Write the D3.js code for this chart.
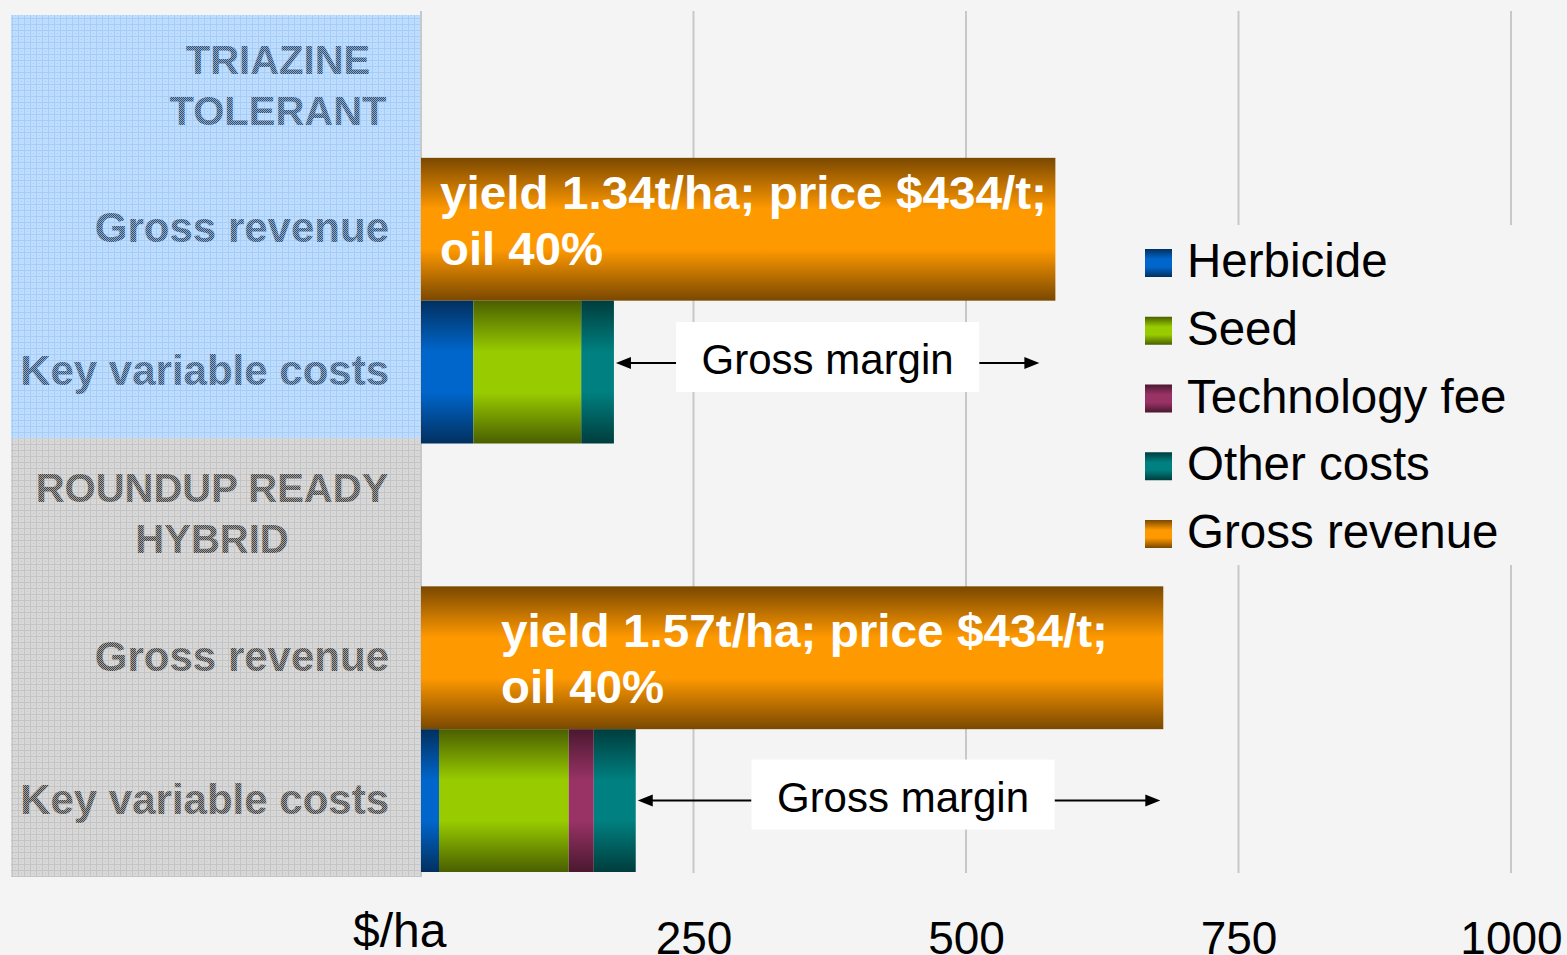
<!DOCTYPE html>
<html>
<head>
<meta charset="utf-8">
<script src="https://cdn.jsdelivr.net/npm/d3@7"></script>
<style>
body { margin: 0; background: #f4f4f4; }
svg { display: block; font-family: "Liberation Sans", Arial, sans-serif; }
</style>
</head>
<body>
<div class="chart"></div>
<script>
// Rows of the chart, top to bottom
const rows = ["tri_head", "tri_rev", "tri_cost", "rr_head", "rr_rev", "rr_cost"];
const row_labels = [["TRIAZINE", "TOLERANT"], ["Gross revenue"], ["Key variable costs"],
                    ["ROUNDUP READY", "HYBRID"], ["Gross revenue"], ["Key variable costs"]];
const cost_keys = ["Herbicide", "Seed", "Technology fee", "Other costs"];
const legend_keys = ["Herbicide", "Seed", "Technology fee", "Other costs", "Gross revenue"];
// $/ha values
const triazine_costs = [48, 99, 0, 30];
const roundup_costs = [16.5, 119, 23, 38.5];
const gross_revenue = [582, 681];
const revenue_notes = [["yield 1.34t/ha; price $434/t;", "oil 40%"],
                       ["yield 1.57t/ha; price $434/t;", "oil 40%"]];
const tick_values = [250, 500, 750, 1000];
const grid_values = [0, 250, 500, 750, 1000];
const axis_title = "$/ha";

const width = 1567;
const height = 955;

const palette = {
  "Herbicide": ["#02305f", "#0066cc"],
  "Seed": ["#4a5f00", "#99cc00"],
  "Technology fee": ["#4a1830", "#993366"],
  "Other costs": ["#003d3d", "#008080"],
  "Gross revenue": ["#7a4800", "#ff9900"],
};

const svg = d3.select(".chart").append("svg")
  .attr("width", width)
  .attr("height", height);

const defs = svg.append("defs");

// Vertical shaded gradients, dark at top and bottom
legend_keys.forEach((k, i) => {
  const g = defs.append("linearGradient")
    .attr("id", `grad${i}`)
    .attr("x1", 0).attr("y1", 0).attr("x2", 0).attr("y2", 1);
  g.append("stop").attr("offset", "0%").attr("stop-color", palette[k][0]);
  g.append("stop").attr("offset", "36%").attr("stop-color", palette[k][1]);
  g.append("stop").attr("offset", "64%").attr("stop-color", palette[k][1]);
  g.append("stop").attr("offset", "100%").attr("stop-color", palette[k][0]);
});
const fill_of = k => `url(#grad${legend_keys.indexOf(k)})`;

// Hatched panel backgrounds and stippled text
function grid_pattern(id, base, line) {
  const p = defs.append("pattern").attr("id", id)
    .attr("width", 6).attr("height", 6).attr("patternUnits", "userSpaceOnUse");
  p.append("rect").attr("width", 6).attr("height", 6).attr("fill", base);
  p.append("rect").attr("width", 6).attr("height", 1).attr("fill", line);
  p.append("rect").attr("width", 1).attr("height", 6).attr("fill", line);
  p.append("rect").attr("x", 3).attr("y", 3).attr("width", 1).attr("height", 1).attr("fill", line);
}
grid_pattern("panelBlue", "#bfdeff", "#a6cdf6");
grid_pattern("panelGray", "#d8d8d8", "#c4c4c4");

function stipple(id, dark, light) {
  const p = defs.append("pattern").attr("id", id)
    .attr("width", 2).attr("height", 2).attr("patternUnits", "userSpaceOnUse");
  p.append("rect").attr("width", 2).attr("height", 2).attr("fill", dark);
  p.append("rect").attr("x", 1).attr("width", 1).attr("height", 1).attr("fill", light);
  p.append("rect").attr("y", 1).attr("width", 1).attr("height", 1).attr("fill", light);
}
stipple("textBlue", "#34506e", "#8aa9cc");
stipple("textGray", "#444444", "#a0a0a0");

//
// Scales
//
const x = d3.scaleLinear().domain([0, 1000]).range([421, 1511]);
const y = d3.scaleBand().domain(rows).range([15, 872]).padding(0);

//
// Gridlines
//
svg.append("g").attr("class", "grid")
  .selectAll("line")
  .data(grid_values)
  .join("line")
    .attr("x1", d => x(d)).attr("x2", d => x(d))
    .attr("y1", 11).attr("y2", 873)
    .attr("stroke", "#c8c8c8")
    .attr("stroke-width", 2);

//
// Left label panels
//
const split_y = y("rr_head") - 5;
svg.append("rect")
  .attr("x", 11).attr("y", y("tri_head"))
  .attr("width", x(0) - 11).attr("height", split_y - y("tri_head"))
  .attr("fill", "url(#panelBlue)");
svg.append("rect")
  .attr("x", 11).attr("y", split_y)
  .attr("width", x(0) - 11).attr("height", y.range()[1] + 5 - split_y)
  .attr("fill", "url(#panelGray)");
svg.append("line")
  .attr("x1", x(0)).attr("x2", x(0)).attr("y1", 11).attr("y2", 877)
  .attr("stroke", "#c8c8c8").attr("stroke-width", 2);

const header_x = { tri_head: 278, rr_head: 212 };
const labels = svg.append("g").attr("class", "row-labels")
  .attr("font-weight", "bold");
rows.forEach((r, i) => {
  const is_head = r in header_x;
  const lines = row_labels[i];
  const cy = y(r) + y.bandwidth() / 2;
  const t = labels.append("text")
    .attr("text-anchor", is_head ? "middle" : "end")
    .attr("font-size", is_head ? 40 : 42)
    .attr("fill", i < 3 ? "url(#textBlue)" : "url(#textGray)");
  lines.forEach((line, j) => {
    t.append("tspan")
      .attr("x", is_head ? header_x[r] : 389)
      .attr("y", cy + 13 + (j - (lines.length - 1) / 2) * 51)
      .text(line);
  });
});

//
// Gross revenue bars
//
const rev_rows = ["tri_rev", "rr_rev"];
svg.append("g").attr("class", "revenue")
  .selectAll("rect")
  .data(gross_revenue)
  .join("rect")
    .attr("x", x(0))
    .attr("y", (d, i) => y(rev_rows[i]))
    .attr("width", d => x(d) - x(0))
    .attr("height", y.bandwidth())
    .attr("fill", fill_of("Gross revenue"));

const note_dx = [19, 80];
const note_dy = [51, 61];
const note_g = svg.append("g").attr("class", "notes")
  .attr("font-weight", "bold").attr("font-size", 47).attr("fill", "#fff");
revenue_notes.forEach((lines, i) => {
  lines.forEach((line, j) => {
    note_g.append("text")
      .attr("x", x(0) + note_dx[i])
      .attr("y", y(rev_rows[i]) + note_dy[i] + j * 56)
      .attr("textLength", j === 0 ? 607 : 163)
      .attr("lengthAdjust", "spacingAndGlyphs")
      .text(line);
  });
});

//
// Stacked cost bars
//
const cost_rows = ["tri_cost", "rr_cost"];
const cost_data = [triazine_costs, roundup_costs].map((vals, i) => {
  const o = { row: cost_rows[i] };
  cost_keys.forEach((k, j) => o[k] = vals[j]);
  return o;
});
const stacked = d3.stack().keys(cost_keys)(cost_data);
svg.append("g").attr("class", "costs")
  .selectAll("g")
  .data(stacked)
  .join("g")
    .attr("fill", d => fill_of(d.key))
  .selectAll("rect")
  .data(d => d.filter(s => s[1] > s[0]))
  .join("rect")
    .attr("x", d => x(d[0]))
    .attr("y", d => y(d.data.row))
    .attr("width", d => x(d[1]) - x(d[0]))
    .attr("height", y.bandwidth());

//
// Gross margin arrows
//
const arrow_dy = [-9, 0];
const arrow_inset = [16, 3];
const margin_g = svg.append("g").attr("class", "margins");
cost_data.forEach((d, i) => {
  const total = d3.sum(cost_keys, k => d[k]);
  const left = x(total) + 2;
  const right = x(gross_revenue[i]) - arrow_inset[i];
  const ay = y(d.row) + y.bandwidth() / 2 + arrow_dy[i];
  const mid = (left + right) / 2 + (i === 1 ? 4 : 0);
  const bw = 303, bh = 70;
  const bx = mid - bw / 2;
  margin_g.append("line")
    .attr("x1", bx).attr("x2", left + 12).attr("y1", ay).attr("y2", ay)
    .attr("stroke", "#000").attr("stroke-width", 2);
  margin_g.append("path")
    .attr("d", `M${left},${ay} L${left + 15},${ay - 6} L${left + 15},${ay + 6} Z`)
    .attr("fill", "#000");
  margin_g.append("line")
    .attr("x1", bx + bw).attr("x2", right - 12).attr("y1", ay).attr("y2", ay)
    .attr("stroke", "#000").attr("stroke-width", 2);
  margin_g.append("path")
    .attr("d", `M${right},${ay} L${right - 15},${ay - 6} L${right - 15},${ay + 6} Z`)
    .attr("fill", "#000");
  margin_g.append("rect")
    .attr("x", bx).attr("y", ay - 41)
    .attr("width", bw).attr("height", bh)
    .attr("fill", "#fff");
  margin_g.append("text")
    .attr("x", mid).attr("y", ay + 11)
    .attr("text-anchor", "middle")
    .attr("font-size", 42)
    .attr("fill", "#000")
    .text("Gross margin");
});

//
// Legend
//
svg.append("rect")
  .attr("x", 1130).attr("y", 225).attr("width", 437).attr("height", 340)
  .attr("fill", "#f4f4f4");
const legend = svg.append("g").attr("class", "legend")
  .selectAll("g")
  .data(legend_keys)
  .join("g")
    .attr("transform", (d, i) => `translate(1145,${263 + i * 67.75})`);
legend.append("rect")
  .attr("x", 0).attr("y", -14).attr("width", 27).attr("height", 28)
  .attr("fill", d => fill_of(d));
legend.append("text")
  .attr("x", 42).attr("y", 14)
  .attr("font-size", 47.5)
  .attr("fill", "#000")
  .text(d => d);

//
// x-axis
//
const axis_g = svg.append("g")
  .attr("transform", "translate(0,954)")
  .call(d3.axisBottom(x).tickValues(tick_values).tickSize(0).tickFormat(d3.format("d")));
axis_g.select(".domain").remove();
axis_g.selectAll("text")
  .attr("y", 0).attr("dy", 0)
  .attr("font-size", 46)
  .attr("font-family", "\"Liberation Sans\", Arial, sans-serif")
  .attr("fill", "#000");

svg.append("text")
  .attr("x", 353).attr("y", 947)
  .attr("font-size", 48)
  .attr("fill", "#000")
  .text(axis_title);
</script>
</body>
</html>
